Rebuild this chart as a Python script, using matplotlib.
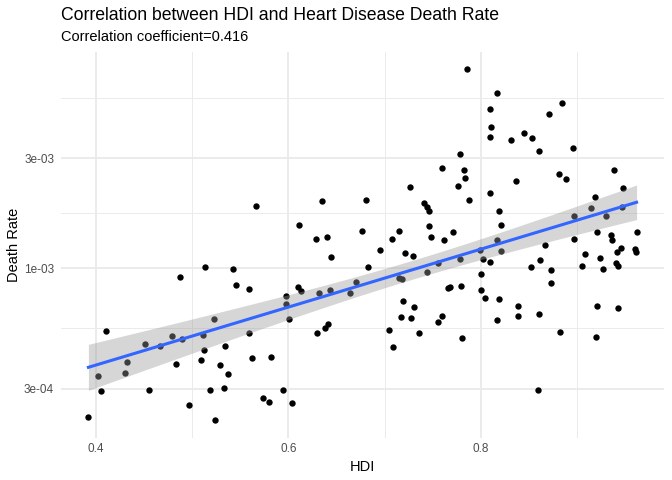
import numpy as np
import matplotlib
matplotlib.use("Agg")
import matplotlib.pyplot as plt
from matplotlib.ticker import FixedLocator, NullFormatter

# ---- data ----
hdi = [
    0.566, 0.513, 0.542, 0.487, 0.545, 0.559, 0.410, 0.523, 0.559, 0.479,
    0.489, 0.511, 0.451, 0.466, 0.534, 0.512, 0.562, 0.509, 0.432, 0.483,
    0.529, 0.402, 0.430, 0.537, 0.405, 0.455, 0.518, 0.533, 0.497, 0.392,
    0.524,
    0.635, 0.681, 0.760, 0.726, 0.741, 0.744, 0.746, 0.611, 0.676, 0.715,
    0.629, 0.640, 0.708, 0.746, 0.748, 0.762, 0.695, 0.721, 0.729, 0.644,
    0.683, 0.755, 0.744, 0.715, 0.718, 0.766, 0.610, 0.613, 0.632, 0.643,
    0.664, 0.670, 0.597, 0.597, 0.601, 0.719, 0.731, 0.717, 0.727, 0.760,
    0.755, 0.630, 0.638, 0.641, 0.705, 0.736, 0.709, 0.582, 0.594, 0.574,
    0.580, 0.604,
    0.786, 0.817, 0.810, 0.884, 0.871, 0.811, 0.810, 0.831, 0.845, 0.853,
    0.861, 0.896, 0.778, 0.783, 0.784, 0.776, 0.788, 0.837, 0.810, 0.881,
    0.889, 0.939, 0.948, 0.919, 0.915, 0.947, 0.819, 0.821, 0.897, 0.930,
    0.771, 0.817, 0.821, 0.799, 0.867, 0.897, 0.921, 0.935, 0.936, 0.946,
    0.942, 0.962, 0.960, 0.961, 0.908,
    0.802, 0.778, 0.810, 0.862, 0.924, 0.852, 0.873, 0.905, 0.927, 0.941,
    0.943, 0.800, 0.873, 0.768, 0.779, 0.800, 0.804, 0.819, 0.839, 0.839,
    0.817, 0.861, 0.921, 0.943, 0.780, 0.882, 0.920, 0.859,
]
death_rate = [
    1.86e-3, 1.01e-3, 9.93e-4, 9.14e-4, 8.50e-4, 8.11e-4, 5.35e-4, 6.01e-4, 5.24e-4, 5.06e-4,
    4.91e-4, 5.11e-4, 4.70e-4, 4.59e-4, 4.62e-4, 4.41e-4, 4.07e-4, 4.00e-4, 3.90e-4, 3.86e-4,
    3.80e-4, 3.40e-4, 3.52e-4, 3.49e-4, 2.93e-4, 2.97e-4, 2.97e-4, 3.01e-4, 2.56e-4, 2.27e-4,
    2.19e-4,
    1.95e-3, 1.97e-3, 2.72e-3, 2.25e-3, 1.91e-3, 1.85e-3, 1.77e-3, 1.54e-3, 1.45e-3, 1.45e-3,
    1.34e-3, 1.37e-3, 1.34e-3, 1.52e-3, 1.36e-3, 1.33e-3, 1.20e-3, 1.16e-3, 1.13e-3, 1.12e-3,
    1.01e-3, 1.05e-3, 9.61e-4, 9.11e-4, 9.02e-4, 8.17e-4, 8.33e-4, 7.93e-4, 7.81e-4, 8.08e-4,
    7.79e-4, 8.72e-4, 7.54e-4, 7.00e-4, 6.03e-4, 7.19e-4, 6.80e-4, 6.15e-4, 6.09e-4, 6.21e-4,
    5.83e-4, 5.26e-4, 5.53e-4, 5.70e-4, 5.42e-4, 5.24e-4, 4.57e-4, 4.14e-4, 2.96e-4, 2.73e-4,
    2.63e-4, 2.61e-4,
    7.30e-3, 5.76e-3, 4.93e-3, 5.21e-3, 4.69e-3, 4.08e-3, 3.72e-3, 3.59e-3, 3.88e-3, 3.66e-3,
    3.23e-3, 3.34e-3, 3.12e-3, 2.66e-3, 2.47e-3, 2.27e-3, 1.97e-3, 2.39e-3, 2.11e-3, 2.56e-3,
    2.43e-3, 2.67e-3, 2.22e-3, 2.03e-3, 1.83e-3, 1.85e-3, 1.78e-3, 1.54e-3, 1.69e-3, 1.69e-3,
    1.43e-3, 1.32e-3, 1.19e-3, 1.20e-3, 1.26e-3, 1.34e-3, 1.43e-3, 1.39e-3, 1.32e-3, 1.23e-3,
    1.18e-3, 1.44e-3, 1.21e-3, 1.18e-3, 1.15e-3,
    1.10e-3, 1.10e-3, 1.06e-3, 1.09e-3, 1.11e-3, 1.01e-3, 9.83e-4, 1.02e-3, 9.97e-4, 1.05e-3,
    1.02e-3, 9.42e-4, 8.67e-4, 8.30e-4, 8.38e-4, 8.08e-4, 7.43e-4, 7.36e-4, 6.89e-4, 6.19e-4,
    5.95e-4, 6.36e-4, 6.84e-4, 6.75e-4, 4.97e-4, 5.30e-4, 5.02e-4, 2.96e-4,
]
x_ticks = [0.4, 0.6, 0.8]
x_tick_labels = ["0.4", "0.6", "0.8"]
y_ticks = [3e-4, 1e-3, 3e-3]
y_tick_labels = ["3e-04", "1e-03", "3e-03"]
title = "Correlation between HDI and Heart Disease Death Rate"
subtitle = "Correlation coefficient=0.416"

# ---- figure ----
plt.rcParams["font.family"] = ["Liberation Sans", "DejaVu Sans"]
fig = plt.figure(figsize=(6.72, 4.80), dpi=100)
W, H = 672, 480
L, R, T, B = 61, 664, 51.7, 437.8
ax = fig.add_axes([L / W, 1 - B / H, (R - L) / W, (B - T) / H])

x = np.array(hdi)
y = np.array(death_rate)
ly = np.log10(y)

# points
ax.scatter(x, y, s=21, color="black", linewidths=0, zorder=2)

# linear fit on log10 scale with 95% CI (like geom_smooth(method="lm"))
n = len(x)
coef = np.polyfit(x, ly, 1)
xs = np.linspace(x.min(), x.max(), 200)
fit = np.polyval(coef, xs)
resid = ly - np.polyval(coef, x)
s = np.sqrt(np.sum(resid ** 2) / (n - 2))
sxx = np.sum((x - x.mean()) ** 2)
se = s * np.sqrt(1.0 / n + (xs - x.mean()) ** 2 / sxx)
tval = 1.975
ax.fill_between(xs, 10 ** (fit - tval * se), 10 ** (fit + tval * se),
                color="#999999", alpha=0.4, linewidth=0, zorder=3)
ax.plot(xs, 10 ** fit, color="#3366FF", linewidth=2.2, zorder=4)

# scales
ax.set_yscale("log")
xr = x.max() - x.min()
ax.set_xlim(x.min() - 0.05 * xr, x.max() + 0.05 * xr)
lr = ly.max() - ly.min()
ax.set_ylim(10 ** (ly.min() - 0.05 * lr), 10 ** (ly.max() + 0.05 * lr))

ax.xaxis.set_major_locator(FixedLocator(x_ticks))
ax.set_xticklabels(x_tick_labels)
x_minor = [(a + b) / 2 for a, b in zip([0.3] + x_ticks, x_ticks + [1.0])]
ax.xaxis.set_minor_locator(FixedLocator(x_minor))

ax.yaxis.set_major_locator(FixedLocator(y_ticks))
ax.set_yticklabels(y_tick_labels)
ext = [1e-4] + y_ticks + [1e-2]
y_minor = [np.sqrt(a * b) for a, b in zip(ext[:-1], ext[1:])]
ax.yaxis.set_minor_locator(FixedLocator(y_minor))
ax.yaxis.set_minor_formatter(NullFormatter())
ax.xaxis.set_minor_formatter(NullFormatter())

ax.grid(which="major", color="#EBEBEB", linewidth=1.4)
ax.grid(which="minor", color="#EBEBEB", linewidth=0.7)
ax.set_axisbelow(True)
for sp in ax.spines.values():
    sp.set_visible(False)
ax.tick_params(which="both", length=0)
ax.tick_params(axis="x", labelsize=8.5, labelcolor="#4D4D4D", pad=4)
ax.tick_params(axis="y", labelsize=8.5, labelcolor="#4D4D4D", pad=5)

ax.set_xlabel("HDI", fontsize=10.5, color="black", labelpad=3)
ax.set_ylabel("Death Rate", fontsize=10.5, color="black", labelpad=2)

fig.text(L / W, 1 - 16 / H, title, fontsize=12.7, ha="left", va="center")
fig.text(L / W, 1 - 37 / H, subtitle, fontsize=10.5, ha="left", va="center")

fig.savefig("out.png", dpi=100, facecolor="white")
